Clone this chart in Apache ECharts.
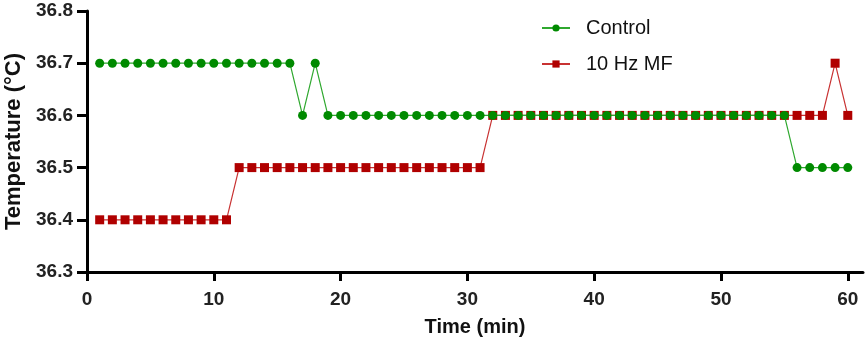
<!DOCTYPE html>
<html>
<head>
<meta charset="utf-8">
<script src="https://cdn.jsdelivr.net/npm/echarts@6/dist/echarts.min.js"></script>
<style>html,body{margin:0;padding:0;background:#fff}#c{width:867px;height:352px}</style>
</head>
<body>
<div id="c"></div>
<script>
var times = [1,2,3,4,5,6,7,8,9,10,11,12,13,14,15,16,17,18,19,20,21,22,23,24,25,26,27,28,29,30,31,32,33,34,35,36,37,38,39,40,41,42,43,44,45,46,47,48,49,50,51,52,53,54,55,56,57,58,59,60];
var control = [36.7,36.7,36.7,36.7,36.7,36.7,36.7,36.7,36.7,36.7,36.7,36.7,36.7,36.7,36.7,36.7,36.6,36.7,36.6,36.6,36.6,36.6,36.6,36.6,36.6,36.6,36.6,36.6,36.6,36.6,36.6,36.6,36.6,36.6,36.6,36.6,36.6,36.6,36.6,36.6,36.6,36.6,36.6,36.6,36.6,36.6,36.6,36.6,36.6,36.6,36.6,36.6,36.6,36.6,36.6,36.5,36.5,36.5,36.5,36.5];
var mf10 = [36.4,36.4,36.4,36.4,36.4,36.4,36.4,36.4,36.4,36.4,36.4,36.5,36.5,36.5,36.5,36.5,36.5,36.5,36.5,36.5,36.5,36.5,36.5,36.5,36.5,36.5,36.5,36.5,36.5,36.5,36.5,36.6,36.6,36.6,36.6,36.6,36.6,36.6,36.6,36.6,36.6,36.6,36.6,36.6,36.6,36.6,36.6,36.6,36.6,36.6,36.6,36.6,36.6,36.6,36.6,36.6,36.6,36.6,36.7,36.6];
var xTicks = [0,10,20,30,40,50,60];
var yTicks = [36.3,36.4,36.5,36.6,36.7,36.8];

function pairs(xs, ys){ return xs.map(function(x,i){ return [x, ys[i]]; }); }

var font = 'Liberation Sans, Arial, sans-serif';
var chart = echarts.init(document.getElementById('c'), null, {renderer:'canvas'});
chart.setOption({
  animation:false,
  backgroundColor:'#fff',
  grid:{left:87, right:4, top:11, bottom:80, containLabel:false, outerBoundsMode:'none'},
  legend:{
    left:536, top:13, orient:'vertical', itemGap:16, itemWidth:28, itemHeight:9,
    textStyle:{fontFamily:font, fontSize:20, color:'#111', padding:[0,0,0,11]},
    data:['Control','10 Hz MF']
  },
  xAxis:{
    type:'value', min:0, max:61.2,
    name:'Time (min)', nameLocation:'middle', nameGap:45,
    nameTextStyle:{fontFamily:font, fontSize:20, fontWeight:'bold', color:'#111'},
    axisLine:{show:true, onZero:false, lineStyle:{color:'#000', width:3}},
    axisTick:{show:true, length:9, lineStyle:{color:'#000', width:3}, customValues:xTicks},
    axisLabel:{fontFamily:font, fontSize:19, fontWeight:'bold', color:'#222', margin:18, customValues:xTicks},
    splitLine:{show:false}
  },
  yAxis:{
    type:'value', min:36.3, max:36.8,
    name:'Temperature (°C)', nameLocation:'middle', nameGap:61, nameRotate:90,
    nameTextStyle:{fontFamily:font, fontSize:22, fontWeight:'bold', color:'#111'},
    axisLine:{show:true, onZero:false, lineStyle:{color:'#000', width:3}},
    axisTick:{show:true, length:10, lineStyle:{color:'#000', width:3}, customValues:yTicks},
    axisLabel:{fontFamily:font, fontSize:19, fontWeight:'bold', color:'#222', margin:14, customValues:yTicks,
      formatter:function(v){ return (+v).toFixed(1); }},
    splitLine:{show:false}
  },
  series:[
    {name:'Control', type:'line', data:pairs(times, control), symbol:'circle', symbolSize:9,
     itemStyle:{color:'#008a00'}, lineStyle:{color:'#2fa82f', width:1.2}, z:3},
    {name:'10 Hz MF', type:'line', data:pairs(times, mf10), symbol:'rect', symbolSize:9,
     itemStyle:{color:'#b00000'}, lineStyle:{color:'#c83232', width:1.2}, z:2}
  ]
});
</script>
</body>
</html>
